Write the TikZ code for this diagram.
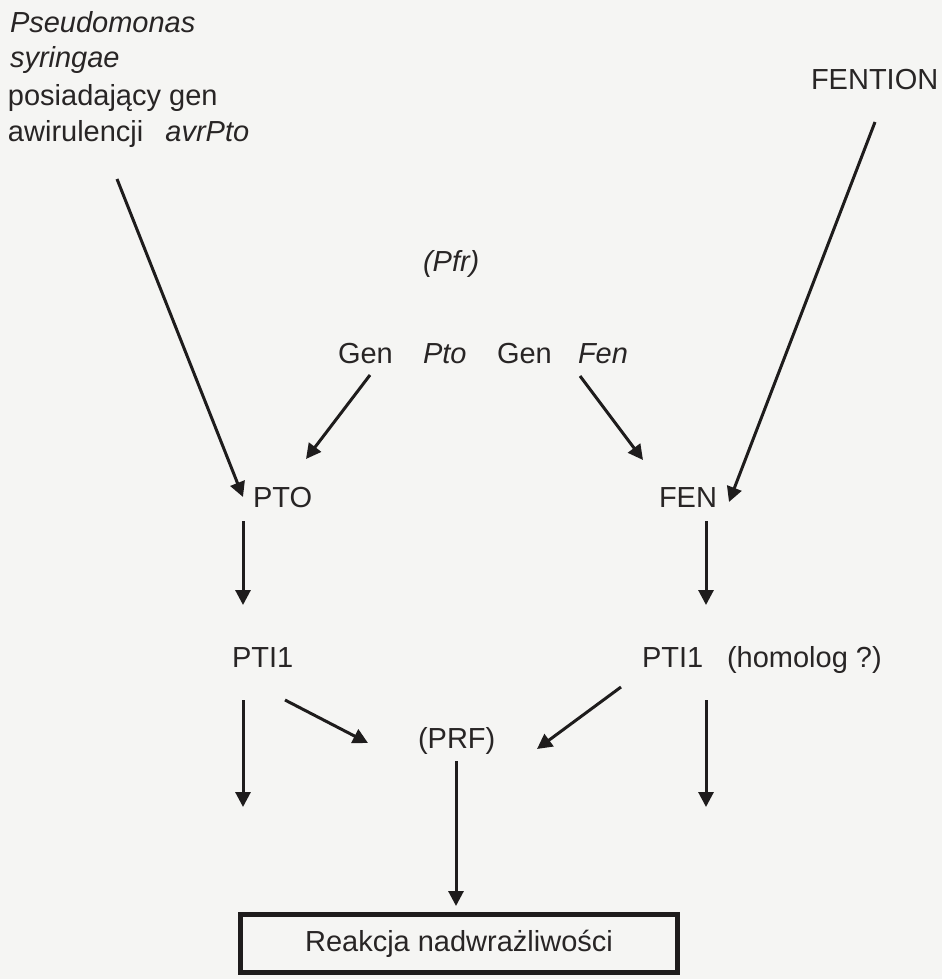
\documentclass[tikz,border=0pt]{standalone}
\usepackage{fontspec}
\setmainfont{Liberation Sans}
\usetikzlibrary{arrows.meta}
\definecolor{bgc}{RGB}{245,245,243}
\definecolor{txt}{RGB}{40,37,37}
\definecolor{ink}{RGB}{30,28,28}
\tikzset{
  lbl/.style={inner sep=0pt, outer sep=0pt, anchor=base west, text=txt, font=\fontsize{29}{34}\selectfont},
  arr/.style={draw=ink, line width=3pt, -{Triangle[length=15pt,width=15pt]}},
  resbox/.style={draw=ink, line width=5pt, minimum width=437pt, minimum height=58pt, inner sep=0pt, text=txt, font=\fontsize{29}{34}\selectfont}
}
\begin{document}
\begin{tikzpicture}[x=1pt,y=-1pt]
\fill[bgc] (0,0) rectangle (942,979);
\useasboundingbox (0,0) rectangle (942,979);

% texts
\node[lbl] (p1) at (10,33) {\itshape Pseudomonas};
\node[lbl] (p2) at (10,68) {\itshape syringae};
\node[lbl] (p3) at (8,106) {posiadający gen};
\node[lbl] (p4) at (8,141) {awirulencji\hspace{22pt}\textit{avrPto}};
\node[lbl] (fention) at (811,90) {FENTION};
\node[lbl] (pfr) at (423,271) {\itshape (Pfr)};
\node[lbl] (gen1) at (338,363) {Gen};
\node[lbl] (pto) at (423,363) {\itshape Pto};
\node[lbl] (gen2) at (497,363) {Gen};
\node[lbl] (fen) at (578,363) {\itshape Fen};
\node[lbl] (PTO) at (253,507) {PTO};
\node[lbl] (FEN) at (659,507) {FEN};
\node[lbl] (ptiL) at (232,667) {PTI1};
\node[lbl] (ptiR) at (642,667) {PTI1};
\node[lbl] (homolog) at (727,667) {(homolog ?)};
\node[lbl] (prf) at (418,748) {(PRF)};
\node[resbox] (box) at (459,943.5) {Reakcja nadwrażliwości};

% connectors
\draw[arr] ([shift={(109,38)}]p4.base west) -- ([shift={(-10,-10)}]PTO.base west);
\draw[arr] ([shift={(64,32)}]fention.base west) -- ([shift={(12,-5)}]FEN.base east);
\draw[arr] ([shift={(32,12)}]gen1.base west) -- ([shift={(53,-48)}]PTO.base west);
\draw[arr] ([shift={(2,13)}]fen.base west) -- ([shift={(-16,-47)}]FEN.base west);
\draw[arr] ([shift={(-10,14)}]PTO.base west) -- ([shift={(11,-62)}]ptiL.base west);
\draw[arr] ([shift={(47,14)}]FEN.base west) -- ([shift={(64,-62)}]ptiR.base west);
\draw[arr] ([shift={(11,33)}]ptiL.base west) -- ([shift={(11,140)}]ptiL.base west);
\draw[arr] ([shift={(64,33)}]ptiR.base west) -- ([shift={(64,140)}]ptiR.base west);
\draw[arr] ([shift={(53,33)}]ptiL.base west) -- ([shift={(-50,-5)}]prf.base west);
\draw[arr] ([shift={(-21,20)}]ptiR.base west) -- ([shift={(119,1)}]prf.base west);
\draw[arr] ([shift={(38,13)}]prf.base west) -- ([shift={(-3,-6)}]box.north);
\end{tikzpicture}
\end{document}
